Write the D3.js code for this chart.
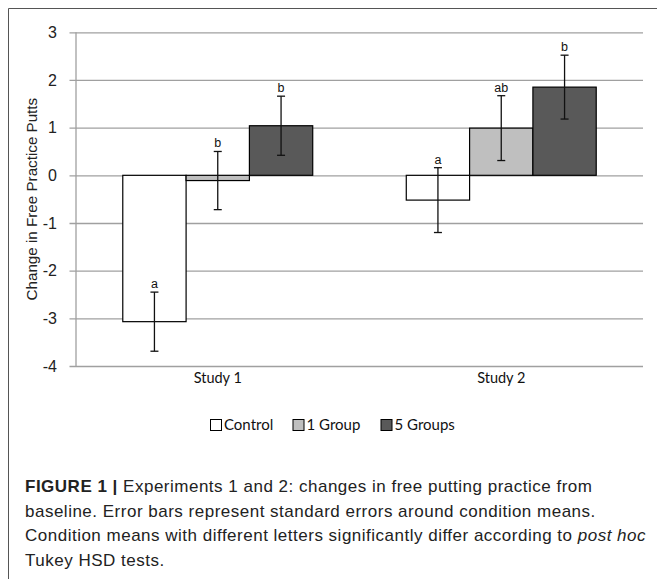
<!DOCTYPE html>
<html><head><meta charset="utf-8">
<script src="https://cdn.jsdelivr.net/npm/d3@7"></script>
<style>
body{margin:0;background:#fff;}
svg{display:block;}
</style></head>
<body>
<svg id="c" width="657" height="579"></svg>
<script>
const studies = ["Study 1", "Study 2"];
const conditions = ["Control", "1 Group", "5 Groups"];
const means = {
  "Study 1": [-3.07, -0.11, 1.04],
  "Study 2": [-0.52, 0.99, 1.85]
};
const errors = {
  "Study 1": [0.62, 0.61, 0.62],
  "Study 2": [0.68, 0.68, 0.67]
};
const letters = {
  "Study 1": ["a", "b", "b"],
  "Study 2": ["a", "ab", "b"]
};
const yTicks = [3, 2, 1, 0, -1, -2, -3, -4];
const colors = ["#ffffff", "#bfbfbf", "#595959"];
const captionLines = [
  [{t:"FIGURE 1 |", b:true}, {t:" Experiments 1 and 2: changes in free putting practice from"}],
  [{t:"baseline. Error bars represent standard errors around condition means."}],
  [{t:"Condition means with different letters significantly differ according to "}, {t:"post hoc", i:true}],
  [{t:"Tukey HSD tests."}]
];

const svg = d3.select("#c");
// frame
svg.append("path").attr("d","M8.5,579 L8.5,8.5 L657,8.5").attr("fill","none").attr("stroke","#555").attr("stroke-width",1);

const x0 = 76, x1 = 643, yTop = 32.3, yBot = 366;
const y = d3.scaleLinear().domain([-4, 3]).range([yBot, yTop]);
const xs = d3.scaleBand().domain(studies).range([x0, x1]).paddingInner(0.33).paddingOuter(0.165);
const xc = d3.scaleBand().domain(conditions).range([0, xs.bandwidth()]);

// gridlines + ticks
const yAxis = d3.axisLeft(y).tickValues(yTicks).tickSize(-(x1 - x0)).tickPadding(19).tickFormat(d => String(d));
const ga = svg.append("g").attr("transform", `translate(${x0},0)`).call(yAxis);
ga.select(".domain").remove();
ga.selectAll(".tick line").attr("stroke", "#a0a0a0").attr("stroke-width", 1.3).attr("x1", -6.5);
ga.selectAll(".tick text").attr("font-family", "Liberation Sans, Arial, sans-serif").attr("font-size", 16).attr("fill", "#222");
// y axis line
svg.append("line").attr("x1", x0).attr("x2", x0).attr("y1", yTop).attr("y2", yBot).attr("stroke", "#a0a0a0").attr("stroke-width", 1.3);

// y title
svg.append("text").attr("transform", `translate(37,${(yTop + yBot) / 2}) rotate(-90)`)
  .attr("text-anchor", "middle").attr("font-family", "Liberation Sans, Arial, sans-serif").attr("font-size", 15.2).attr("fill", "#222")
  .text("Change in Free Practice Putts");

// bars
const groups = svg.selectAll("g.study").data(studies).join("g").attr("class", "study")
  .attr("transform", d => `translate(${xs(d)},0)`);
groups.each(function (s) {
  const g = d3.select(this);
  conditions.forEach((c, i) => {
    const v = means[s][i];
    g.append("rect").attr("x", xc(c)).attr("width", xc.bandwidth())
      .attr("y", y(Math.max(0, v))).attr("height", Math.abs(y(v) - y(0)))
      .attr("fill", colors[i]).attr("stroke", "#000").attr("stroke-width", 1.2);
  });
  conditions.forEach((c, i) => {
    const v = means[s][i], e = errors[s][i];
    const cx = xc(c) + xc.bandwidth() / 2;
    g.append("line").attr("x1", cx).attr("x2", cx).attr("y1", y(v + e)).attr("y2", y(v - e)).attr("stroke", "#111").attr("stroke-width", 1.3);
    [v + e, v - e].forEach(yy => g.append("line").attr("x1", cx - 4).attr("x2", cx + 4).attr("y1", y(yy)).attr("y2", y(yy)).attr("stroke", "#111").attr("stroke-width", 1.3));
    g.append("text").attr("x", cx).attr("y", y(v + e) - 4).attr("text-anchor", "middle")
      .attr("font-family", "Liberation Sans, Arial, sans-serif").attr("font-size", 12.5).attr("fill", "#111")
      .text(letters[s][i]);
  });
});

// x labels
svg.selectAll("text.xl").data(studies).join("text").attr("class", "xl")
  .attr("x", d => xs(d) + xs.bandwidth() / 2).attr("y", 383).attr("text-anchor", "middle")
  .attr("font-family", "Lato, sans-serif").attr("font-size", 14.5).attr("fill", "#111").text(d => d);

// legend
const legX = [210, 292.5, 380.5];
const lg = svg.selectAll("g.leg").data(conditions).join("g").attr("class", "leg")
  .attr("transform", (d, i) => `translate(${legX[i]},419)`);
lg.append("rect").attr("x", 0.5).attr("y", 0.5).attr("width", 11).attr("height", 11)
  .attr("fill", (d, i) => colors[i]).attr("stroke", "#000").attr("stroke-width", 1);
lg.append("text").attr("x", 14).attr("y", 11).attr("font-family", "Lato, sans-serif").attr("font-size", 15).attr("fill", "#111").text(d => d);

// caption
const cap = svg.append("g").attr("font-family", "Liberation Sans, Arial, sans-serif").attr("font-size", 17).attr("letter-spacing", 0.5).attr("fill", "#222");
captionLines.forEach((line, k) => {
  const t = cap.append("text").attr("x", 25).attr("y", 492 + k * 24.7);
  line.forEach(seg => {
    const ts = t.append("tspan").text(seg.t);
    if (seg.b) ts.attr("font-weight", "bold");
    if (seg.i) ts.attr("font-style", "italic");
  });
});
</script>
</body></html>
